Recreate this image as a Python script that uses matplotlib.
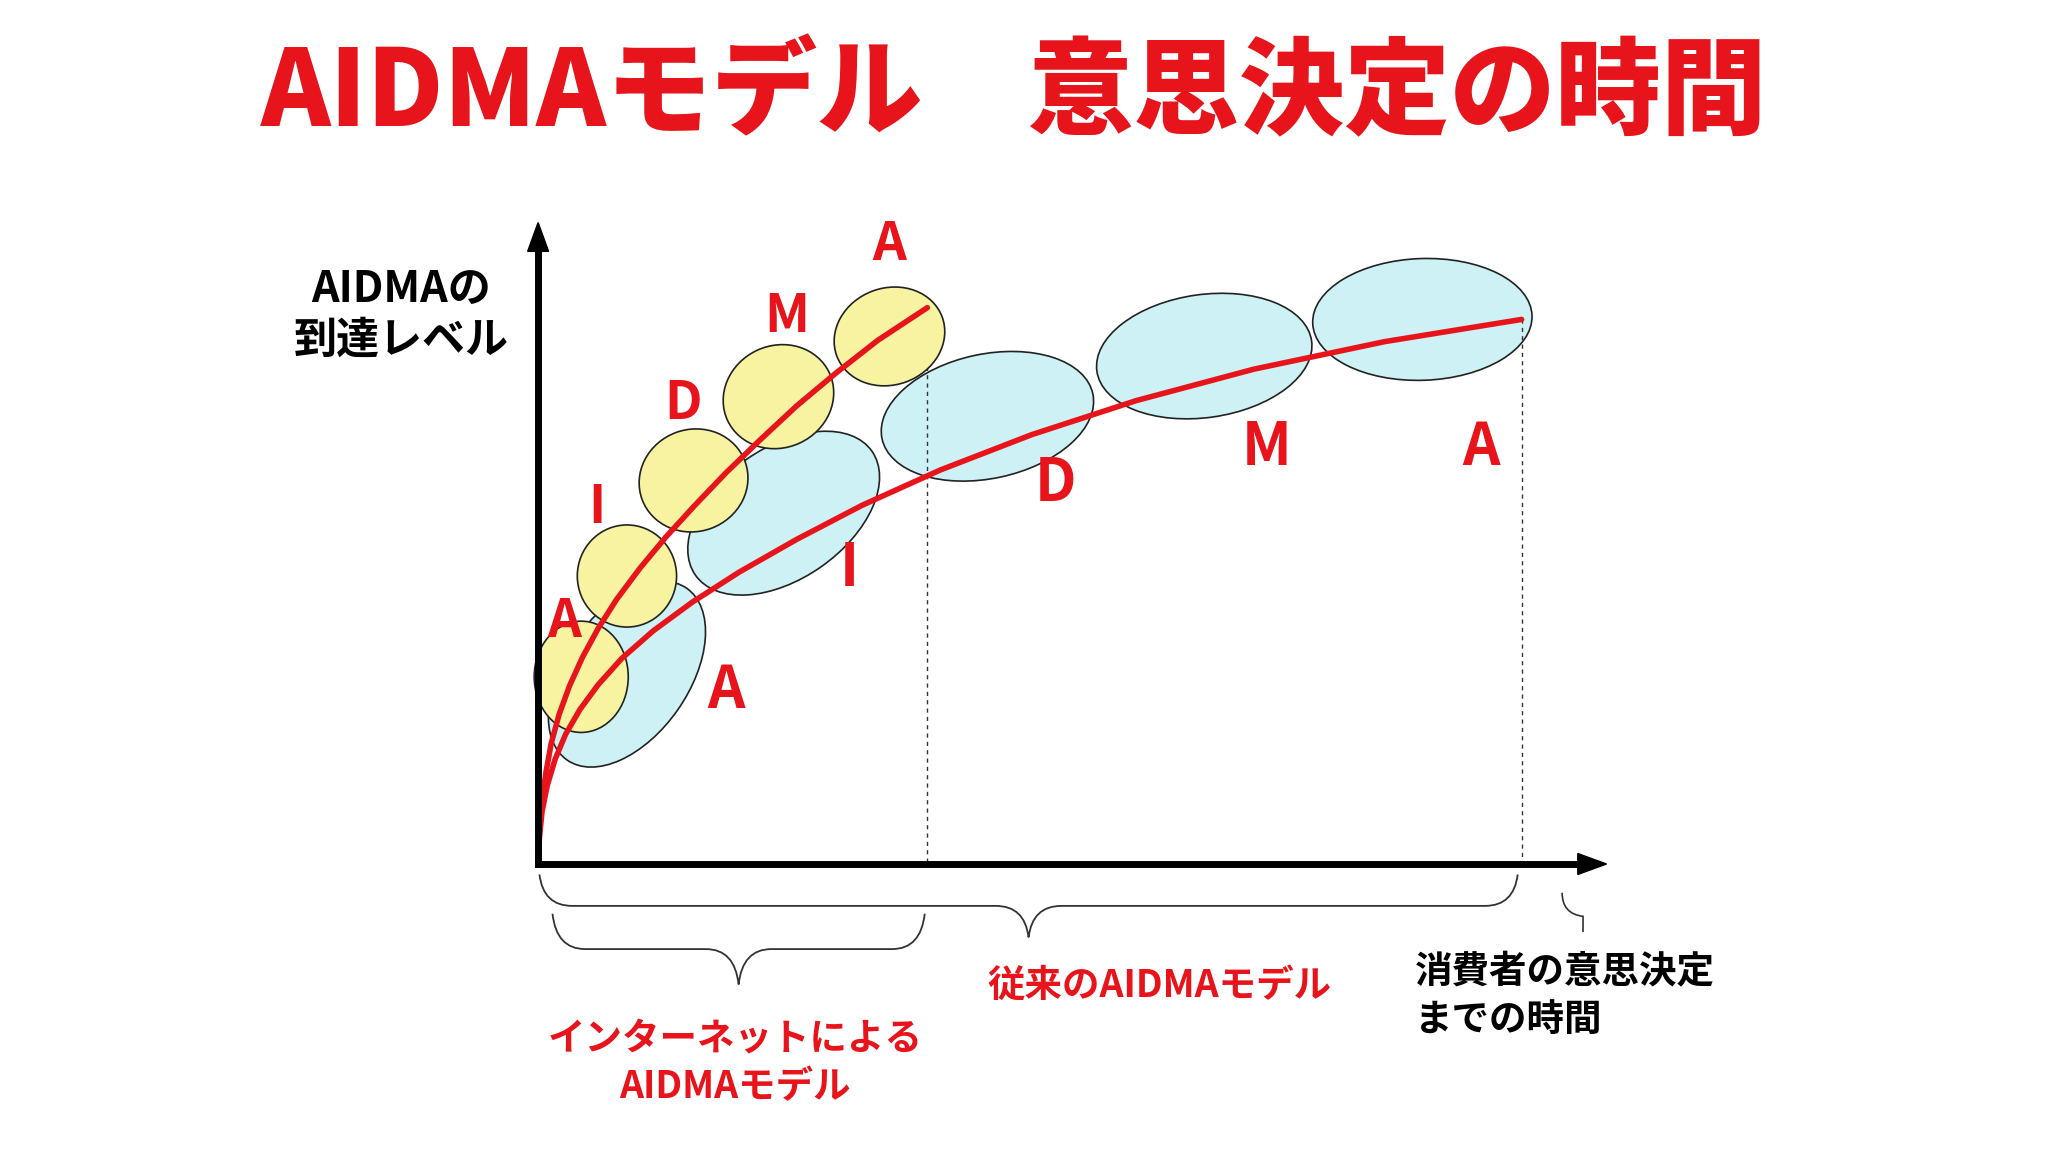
import matplotlib
matplotlib.use("Agg")
import matplotlib.pyplot as plt
from matplotlib.patches import Ellipse, PathPatch
from matplotlib.path import Path

plt.rcParams['font.family'] = ['Noto Sans CJK JP', 'DejaVu Sans']

RED = "#e8141b"
YELLOW = "#f7f3a0"
BLUE = "#cdf1f4"

# layout space: 1568 x 880 canvas units (y down)
origin = (412, 660)

# internet AIDMA curve (fast) and traditional AIDMA curve (slow)
fast_x = [412, 413, 415, 418, 422, 428, 436, 446, 458, 472, 490, 510, 532, 556, 582, 610, 640, 672, 710]
fast_y = [660, 635, 612, 590, 568, 546, 524, 502, 480, 458, 434, 410, 386, 361, 336, 310, 285, 260, 235]
slow_x = [412, 413, 415, 419, 425, 433, 444, 458, 476, 500, 530, 566, 610, 660, 720, 790, 870, 960, 1060, 1165]
slow_y = [660, 640, 620, 600, 580, 561, 542, 523, 503, 482, 460, 437, 412, 386, 359, 332, 306, 282, 261, 244]

stages = ["A", "I", "D", "M", "A"]
# ellipse centres / sizes / angles for each stage
fast_ell = [(445, 517, 72, 85, 0), (480, 440, 76, 78, 0), (531, 367, 84, 78, -20),
            (596, 303, 86, 78, -25), (681, 257, 86, 74, -20)]
slow_ell = [(480, 515, 160, 95, -55), (600, 392, 165, 100, -35), (756, 318, 165, 95, -12),
            (922, 272, 166, 94, -8), (1089, 244, 168, 93, -2)]
fast_lbl = [(432, 475), (457, 388), (523, 308), (602, 242), (681, 187)]
slow_lbl = [(556, 528), (650, 435), (808, 370), (970, 342), (1134, 342)]

fig = plt.figure(figsize=(20.48, 11.52), dpi=100)
ax = fig.add_axes([0, 0, 1, 1])
ax.set_xlim(0, 1568)
ax.set_ylim(880, 0)
ax.axis("off")

for (cx, cy, w, h, a) in slow_ell:
    ax.add_patch(Ellipse((cx, cy), w, h, angle=a, facecolor=BLUE, edgecolor="#222", lw=1.2, zorder=2))
for (cx, cy, w, h, a) in fast_ell:
    ax.add_patch(Ellipse((cx, cy), w, h, angle=a, facecolor=YELLOW, edgecolor="#222", lw=1.2, zorder=3))

ax.plot(slow_x, slow_y, color=RED, lw=4, zorder=4, solid_capstyle="round", solid_joinstyle="round")
ax.plot(fast_x, fast_y, color=RED, lw=4, zorder=4, solid_capstyle="round", solid_joinstyle="round")

for s, (x, y) in zip(stages, fast_lbl):
    ax.text(x, y, s, color=RED, fontsize=38, fontweight="bold", ha="center", va="center", zorder=5)
for s, (x, y) in zip(stages, slow_lbl):
    ax.text(x, y, s, color=RED, fontsize=42, fontweight="bold", ha="center", va="center", zorder=5)

# dashed guides
ax.plot([fast_x[-1], fast_x[-1]], [fast_y[-1], origin[1]], ls=(0, (3, 3)), color="#333", lw=1)
ax.plot([slow_x[-1], slow_x[-1]], [slow_y[-1], origin[1]], ls=(0, (3, 3)), color="#333", lw=1)

# axes arrows
ax.plot([origin[0], origin[0]], [origin[1], 190], color="black", lw=5, zorder=6)
ax.fill([404, 420, 412], [192, 192, 170], color="black", zorder=6)
ax.plot([origin[0], 1210], [origin[1], origin[1]], color="black", lw=5, zorder=6)
ax.fill([1208, 1208, 1230], [652, 668, 660], color="black", zorder=6)


def brace(x0, x1, y0, depth):
    xm = (x0 + x1) / 2
    y1 = y0 + depth * 0.5
    y2 = y0 + depth
    r = 25
    verts = [(x0, y0), (x0 + 3, y1), (x0 + r, y1),
             (xm - r, y1), (xm - 3, y1), (xm, y2),
             (xm + 3, y1), (xm + r, y1),
             (x1 - r, y1), (x1 - 3, y1), (x1, y0)]
    codes = [Path.MOVETO, Path.CURVE3, Path.CURVE3,
             Path.LINETO, Path.CURVE3, Path.CURVE3,
             Path.CURVE3, Path.CURVE3,
             Path.LINETO, Path.CURVE3, Path.CURVE3]
    ax.add_patch(PathPatch(Path(verts, codes), fill=False, lw=1.3, color="#333"))


brace(413, 1162, 668, 48)
brace(423, 708, 698, 54)
ax.add_patch(PathPatch(Path([(1196, 682), (1196, 698), (1212, 700), (1212, 712)],
                            [Path.MOVETO, Path.CURVE3, Path.CURVE3, Path.LINETO]),
                       fill=False, lw=1.2, color="#333"))

ax.text(776, 72, "AIDMAモデル　意思決定の時間", color=RED, fontsize=76,
        fontweight="black", ha="center", va="center")
ax.text(307, 240, "AIDMAの\n到達レベル", fontsize=31, fontweight="bold",
        ha="center", va="center", linespacing=1.2)
ax.text(888, 753, "従来のAIDMAモデル", color=RED, fontsize=27, fontweight="bold",
        ha="center", va="center")
ax.text(563, 812, "インターネットによる\nAIDMAモデル", color=RED, fontsize=27,
        fontweight="bold", ha="center", va="center", linespacing=1.3)
ax.text(1083, 760, "消費者の意思決定\nまでの時間", fontsize=27, fontweight="bold",
        ha="left", va="center", linespacing=1.3)

fig.savefig("out.png", dpi=100, facecolor="white")
